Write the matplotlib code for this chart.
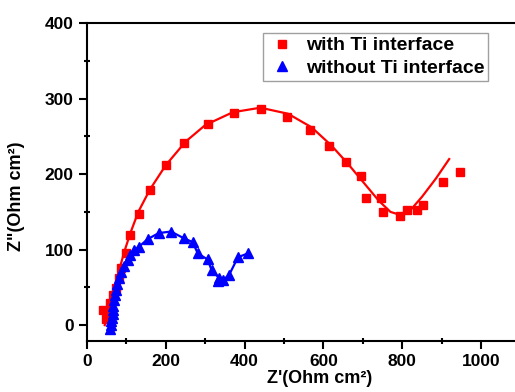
import matplotlib
matplotlib.use("Agg")
import matplotlib.pyplot as plt
import numpy as np

plt.rcParams["font.family"] = ["Liberation Sans", "DejaVu Sans"]
plt.rcParams["font.weight"] = "bold"

# with Ti interface: measured points
red_x = [40, 48, 58, 66, 73, 80, 86, 99, 109, 132, 160, 200, 246, 306, 372, 441,
         508, 565, 615, 658, 694, 708, 747, 752, 793, 813, 838, 853, 904, 946]
red_y = [20, 8, 30, 40, 49, 62, 76, 95, 120, 147, 179, 212, 241, 267, 281, 286,
         276, 258, 237, 216, 197, 168, 168, 150, 145, 152, 152, 159, 189, 203]

# with Ti interface: fitted curve
fit_x = [45, 55, 65, 80, 95, 110, 130, 160, 200, 250, 300, 370, 440, 510, 570,
         620, 660, 700, 740, 770, 795, 820, 850, 885, 919]
fit_y = [0, 20, 40, 70, 98, 122, 150, 180, 212, 243, 265, 282, 288, 280, 262,
         238, 215, 190, 165, 150, 146, 152, 170, 194, 220]

# without Ti interface
blue_x = [58, 60, 62, 63, 65, 66, 67, 69, 71, 73, 77, 81, 87, 94, 103, 110, 120,
          132, 154, 182, 213, 246, 268, 281, 306, 316, 334, 332, 345, 360, 383, 408]
blue_y = [-5, 0, 5, 10, 15, 20, 26, 33, 40, 46, 55, 63, 70, 78, 86, 93, 100,
          104, 114, 122, 124, 115, 110, 95, 87, 73, 63, 58, 60, 66, 90, 95]

fig = plt.figure(figsize=(5.15, 3.92), dpi=100)
ax = fig.add_axes([0.169, 0.130, 0.831, 0.811])

ax.plot(fit_x, fit_y, color="red", lw=1.6, zorder=2)
ax.plot(red_x, red_y, "s", color="red", ms=6, zorder=3, label="with Ti interface")
ax.plot(blue_x, blue_y, "-^", color="blue", ms=7, lw=1.6, zorder=4)
ax.plot([], [], "^", color="blue", ms=6.5, label="without Ti interface")

ax.set_xlim(0, 1086)
ax.set_ylim(-21, 400)
ax.set_xticks([0, 200, 400, 600, 800, 1000])
ax.set_xticks([100, 300, 500, 700, 900], minor=True)
ax.set_yticks([0, 100, 200, 300, 400])
ax.set_yticks([50, 150, 250, 350], minor=True)

ax.spines["right"].set_visible(False)
for s in ["left", "bottom", "top"]:
    ax.spines[s].set_linewidth(1.5)
ax.tick_params(which="major", direction="out", length=6, width=1.5, labelsize=12.5)
ax.tick_params(which="minor", direction="inout", length=5, width=1.5)
ax.tick_params(top=False, right=False)
for lab in ax.get_xticklabels() + ax.get_yticklabels():
    lab.set_fontweight("bold")

ax.set_xlabel("Z'(Ohm cm²)", fontsize=13, fontweight="bold")
ax.set_ylabel('Z"(Ohm cm²)', fontsize=13, fontweight="bold")
ax.xaxis.set_label_coords(0.544, -0.092)
ax.yaxis.set_label_coords(-0.145, 0.456)

leg = ax.legend(loc="upper left", bbox_to_anchor=(0.411, 0.969), borderaxespad=0,
                fancybox=False, edgecolor="#888888",
                handletextpad=0.4, borderpad=0.2, labelspacing=0.25,
                handlelength=1.6, prop={"weight": "bold", "size": 14})
leg.get_frame().set_linewidth(1.0)

fig.savefig("out.png", dpi=100)
